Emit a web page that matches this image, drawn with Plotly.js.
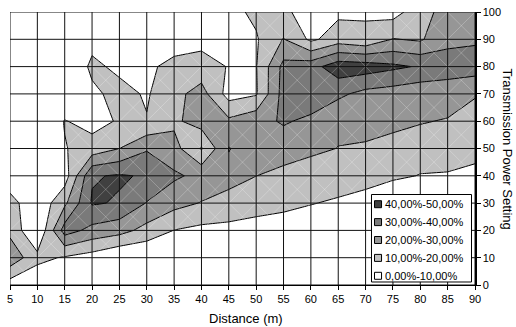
<!DOCTYPE html>
<html><head><meta charset="utf-8">
<script src="https://cdn.plot.ly/plotly-3.0.1.min.js"></script>
<style>html,body{margin:0;padding:0;background:#fff}#chart{width:516px;height:327px}</style>
</head><body><div id="chart"></div>
<script>
// Distance (m) categories along x, transmission power settings along y
const distance = [5,10,15,20,25,30,35,40,45,50,55,60,65,70,75,80,85,90];
const power = [0,10,20,30,40,50,60,70,80,90,100];

// Percentage values, one row per power setting (x = 5 ... 90)
const z_p0   = [5,2,0,0,0,0,0,0,0,0,0,0,0,0,0,0,0,0];
const z_p10  = [27,12.8,9,5.6,0,0,0,1,1,1,1,0,0,0,0,0,0,0];
const z_p20  = [17.4,0,34.5,27,23.8,16.5,9.8,7.5,8.5,7,6,3,2,1,1,0,0,2];
const z_p30  = [14,2,18,41,39.1,29.5,23.4,19.5,13.3,13,12,10.5,8.5,7,5,4,4,5];
const z_p40  = [3,0,5,39.1,41,39,31.6,27.3,26.7,20.1,17,15.2,15.6,13,11,9.8,9.5,8.5];
const z_p50  = [0,0,9.5,14,20,29,23.6,9,30.5,24,25,22,19.8,18,17.3,12.5,13,11.9];
const z_p60  = [0,0,10.5,6.5,11,10.5,18,24.7,22,27,31,28,22,26,22,21,19,15];
const z_p70  = [0,0,0,8,13,9,17,24,6,9,34,36,32,27,25.3,23.2,27.3,21];
const z_p80  = [0,0,0,12,8,8,13,14,9.5,9.5,33,36,46,45,42,39,32.4,34.8];
const z_p90  = [0,0,0,7,0,2,5,7,5,9,20.5,8,15,12,20.5,18.6,28.7,28.6];
const z_p100 = [0,0,0,0,0,0,0,0,7,12,13,3,8,9,6,16,24,25];

const levelLabels = ['40,00%-50,00%','30,00%-40,00%','20,00%-30,00%','10,00%-20,00%','0,00%-10,00%'];
const levelColors = ['#404040','#7a7a7a','#969696','#c0c0c0','#ffffff'];

const z = [z_p0,z_p10,z_p20,z_p30,z_p40,z_p50,z_p60,z_p70,z_p80,z_p90,z_p100];
const FONT = 'Liberation Sans, Arial, Helvetica, sans-serif';

const contour = {
  type: 'contour', x: distance, y: power, z: z,
  autocontour: false,
  contours: {start: 10, end: 40, size: 10, coloring: 'fill', showlines: true},
  line: {color: '#000', width: 1, smoothing: 0},
  colorscale: [[0, levelColors[4]], [0.25, levelColors[3]], [0.5, levelColors[2]], [0.75, levelColors[1]], [1, levelColors[0]]],
  showscale: false, hoverinfo: 'skip', showlegend: false
};

// faint cell diagonals (surface triangulation look)
const dx = [], dy = [];
for (let i = 0; i < distance.length - 1; i++) {
  for (let j = 0; j < power.length - 1; j++) {
    dx.push(distance[i], distance[i+1], null, distance[i], distance[i+1], null);
    dy.push(power[j], power[j+1], null, power[j+1], power[j], null);
  }
}
const diag = {type: 'scatter', mode: 'lines', x: dx, y: dy, hoverinfo: 'skip', showlegend: false,
  line: {color: 'rgba(255,255,255,0.3)', width: 0.8}};

const shapes = [];
const xMin = distance[0], xMax = distance[distance.length-1];
const yMin = power[0], yMax = power[power.length-1];
distance.forEach(v => shapes.push({type: 'line', xref: 'x', yref: 'y', x0: v, x1: v, y0: yMin, y1: yMax, layer: 'above', line: {color: '#111', width: 1}}));
power.forEach(v => shapes.push({type: 'line', xref: 'x', yref: 'y', x0: xMin, x1: xMax, y0: v, y1: v, layer: 'above', line: {color: '#111', width: 1}}));

// legend box (paper coords)
shapes.push({type: 'rect', xref: 'paper', yref: 'paper', x0: 0.7774, x1: 0.9925, y0: 0.011, y1: 0.3315, layer: 'above',
  fillcolor: '#fff', line: {color: '#000', width: 1}});
const annotations = [];
levelLabels.forEach((lab, i) => {
  const py = 204.2 + 17.9 * i;
  const yc = (285 - py) / 273;
  shapes.push({type: 'rect', xref: 'paper', yref: 'paper', x0: 0.7839, x1: 0.7990, y0: yc - 0.0128, y1: yc + 0.0128, layer: 'above',
    fillcolor: levelColors[i], line: {color: '#000', width: 1}});
  annotations.push({xref: 'paper', yref: 'paper', x: 0.802, y: yc, xanchor: 'left', yanchor: 'middle', showarrow: false,
    text: lab, font: {family: FONT, size: 11, color: '#000'}});
});
annotations.push({xref: 'paper', yref: 'paper', x: 0.5075, y: -0.121, xanchor: 'center', yanchor: 'middle', showarrow: false,
  text: 'Distance (m)', font: {family: FONT, size: 13, color: '#000'}});
annotations.push({xref: 'paper', yref: 'paper', x: 1.069, y: 0.5, xanchor: 'center', yanchor: 'middle', showarrow: false,
  textangle: 90, text: 'Transmission Power Setting', font: {family: FONT, size: 13, color: '#000'}});

const layout = {
  width: 516, height: 327,
  margin: {l: 10, r: 41, t: 12, b: 42, pad: 0},
  paper_bgcolor: '#fff', plot_bgcolor: '#fff',
  showlegend: false,
  xaxis: {range: [xMin, xMax], tickvals: distance, ticks: 'outside', ticklen: 4, tickcolor: '#000',
    showgrid: false, zeroline: false, showline: true, linecolor: '#000', linewidth: 1,
    tickfont: {family: FONT, size: 11, color: '#000'}, fixedrange: true},
  yaxis: {range: [yMin, yMax], side: 'right', tickvals: power, ticks: 'outside', ticklen: 4, tickcolor: '#000',
    showgrid: false, zeroline: false, showline: true, linecolor: '#000', linewidth: 1.5,
    tickfont: {family: FONT, size: 11, color: '#000'}, fixedrange: true},
  shapes: shapes, annotations: annotations
};

Plotly.newPlot('chart', [contour, diag], layout, {displayModeBar: false, staticPlot: true});
</script></body></html>
